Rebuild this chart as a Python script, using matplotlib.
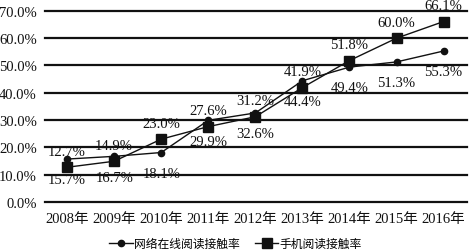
import matplotlib
matplotlib.use("Agg")
import matplotlib.pyplot as plt

years = ["2008年", "2009年", "2010年", "2011年", "2012年", "2013年", "2014年", "2015年", "2016年"]
online = [15.7, 16.7, 18.1, 29.9, 32.6, 44.4, 49.4, 51.3, 55.3]
mobile = [12.7, 14.9, 23.0, 27.6, 31.2, 41.9, 51.8, 60.0, 66.1]
series_names = ["网络在线阅读接触率", "手机阅读接触率"]
yticks = [0, 10, 20, 30, 40, 50, 60, 70]

plt.rcParams['font.family'] = ['Liberation Serif', 'Noto Sans CJK SC']
plt.rcParams['font.size'] = 10.5
ink = '#111111'

fig = plt.figure(figsize=(4.69, 2.53), dpi=100)
ax = fig.add_axes([0.096, 0.198, 0.90, 0.755])
x = list(range(len(years)))

for t in yticks:
    ax.axhline(t, color=ink, lw=1.6, zorder=1, clip_on=False)

l1, = ax.plot(x, online, color=ink, lw=1.0, marker='o', ms=4.5, zorder=3)
l2, = ax.plot(x, mobile, color=ink, lw=1.0, marker='s', ms=7, zorder=3)

for xi, v in zip(x, online):
    ax.annotate(f"{v:.1f}%", (xi, v), xytext=(0, -15), textcoords='offset points',
                ha='center', va='center', color=ink, fontsize=10.5)
for xi, v in zip(x, mobile):
    ax.annotate(f"{v:.1f}%", (xi, v), xytext=(0, 11.5), textcoords='offset points',
                ha='center', va='center', color=ink, fontsize=10.5)

ax.set_xlim(-0.47, 8.5)
ax.set_ylim(0, 70)
ax.set_xticks(x)
ax.set_xticklabels(years)
ax.set_yticks(yticks)
ax.set_yticklabels([f"{t:.1f}%" for t in yticks])
ax.tick_params(length=0, colors=ink, labelsize=10.5)
ax.tick_params(axis='x', pad=7)
ax.tick_params(axis='y', pad=6)
for s in ax.spines.values():
    s.set_visible(False)

fig.legend([l1, l2], series_names, loc='center', bbox_to_anchor=(0.502, 0.032),
           ncol=2, frameon=False, handlelength=2.0, columnspacing=1.3,
           handletextpad=0.1, fontsize=8.5, borderpad=0, borderaxespad=0)

fig.savefig("out.png", dpi=100)
